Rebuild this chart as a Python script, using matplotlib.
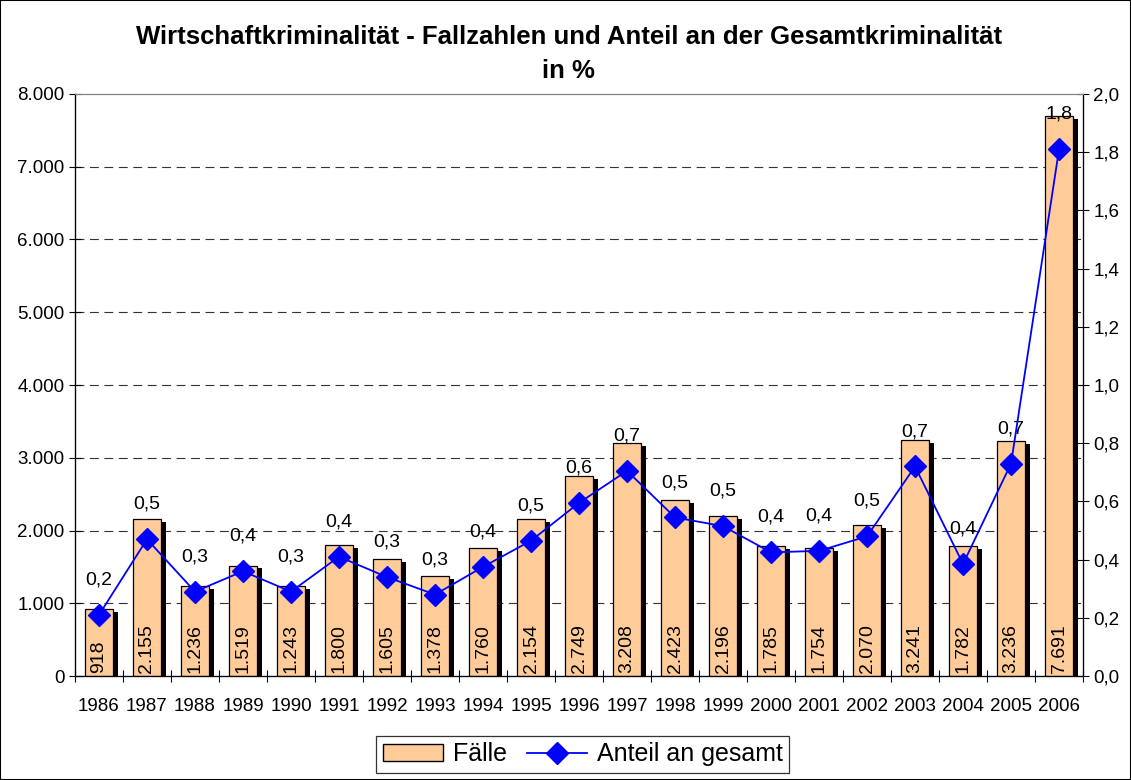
import numpy as np
import matplotlib.pyplot as plt
from matplotlib.patches import Rectangle, Patch
from matplotlib.lines import Line2D
from matplotlib.ticker import FuncFormatter

plt.rcParams['font.family'] = ['Liberation Sans', 'DejaVu Sans']

years = [str(y) for y in range(1986, 2007)]
faelle = [918, 2155, 1236, 1519, 1243, 1800, 1605, 1378, 1760, 2154, 2749,
          3208, 2423, 2196, 1785, 1754, 2070, 3241, 1782, 3236, 7691]
# share of total crime in %
anteil = [0.21, 0.47, 0.29, 0.36, 0.29, 0.41, 0.34, 0.28, 0.375, 0.465, 0.595,
          0.705, 0.545, 0.515, 0.425, 0.43, 0.48, 0.72, 0.385, 0.73, 1.81]

x = np.arange(len(years))

fig = plt.figure(figsize=(11.31, 7.8), dpi=100)
ax = fig.add_axes([0.0663, 0.1333, 0.8913, 0.7462])
ax2 = ax.twinx()

# bars with black drop shadow
ax.bar(x + 0.1, np.array(faelle) - 40, width=0.58, color='black', zorder=2)
ax.bar(x, faelle, width=0.58, color='#FFCC99', edgecolor='black', linewidth=0.9, zorder=3)
for xi, v in zip(x, faelle):
    ax.text(xi, 40, f"{v:,}".replace(',', '.'), rotation=90, ha='center', va='bottom',
            fontsize=14, zorder=4)

ax.set_xlim(-0.5, len(years) - 0.5)
ax.set_ylim(0, 8000)
ax.set_yticks(np.arange(0, 8001, 1000))
ax.yaxis.set_major_formatter(FuncFormatter(lambda v, p: f"{v:,.0f}".replace(',', '.')))
ax.set_xticks(x)
ax.set_xticklabels(years)
ax.set_xticks(np.arange(-0.5, len(years)), minor=True)
ax.tick_params(axis='x', which='major', length=0, labelsize=13.5, pad=16)
ax.tick_params(axis='x', which='minor', length=9, width=0.8, direction='inout')
ax.tick_params(axis='y', length=9, width=0.8, labelsize=13.5, pad=3, direction='inout')
for yv in range(1000, 8000, 1000):
    ax.axhline(yv, color='#333333', lw=0.8, ls=(0, (8, 5)), zorder=1)

ax.spines['top'].set_color('#808080')
ax2.spines['top'].set_color('#808080')
for s in ['left', 'bottom', 'right']:
    ax2.spines[s].set_linewidth(0.9)

# percentage line
ax2.plot(x, anteil, color='#0000FF', lw=1.3, marker='D', markersize=11.5, zorder=5)
for xi, v in zip(x, anteil):
    ax2.annotate(f"{v:.1f}".replace('.', ','), (xi, v), xytext=(0, 19), textcoords='offset points',
                 ha='center', va='bottom', fontsize=14)
ax2.set_ylim(0, 2.0)
ax2.set_yticks(np.arange(0, 2.01, 0.2))
ax2.yaxis.set_major_formatter(FuncFormatter(lambda v, p: f"{v:.1f}".replace('.', ',')))
ax2.tick_params(axis='y', length=9, width=0.8, labelsize=13.5, pad=3, direction='inout')
ax.set_zorder(1)
ax2.set_zorder(2)
ax2.patch.set_visible(False)

fig.text(0.503, 0.953, "Wirtschaftkriminalität - Fallzahlen und Anteil an der Gesamtkriminalität",
         ha='center', va='center', fontsize=18.5, fontweight='bold')
fig.text(0.503, 0.909, "in %", ha='center', va='center', fontsize=18.5, fontweight='bold')

handles = [Patch(facecolor='#FFCC99', edgecolor='black', label='Fälle'),
           Line2D([], [], color='#0000FF', lw=1.3, marker='D', markersize=11.5, label='Anteil an gesamt')]
leg = fig.legend(handles=handles, loc='center', bbox_to_anchor=(0.515, 0.033), ncol=2,
                 fontsize=18, frameon=True, fancybox=False, edgecolor='black',
                 handlelength=2.4, handletextpad=0.4, columnspacing=0.8, borderpad=0.25)
leg.get_frame().set_linewidth(0.9)

fig.patches.append(Rectangle((0, 0), 1, 1, transform=fig.transFigure, fill=False,
                             edgecolor='black', lw=1.5))

fig.savefig('out.png', dpi=100)
